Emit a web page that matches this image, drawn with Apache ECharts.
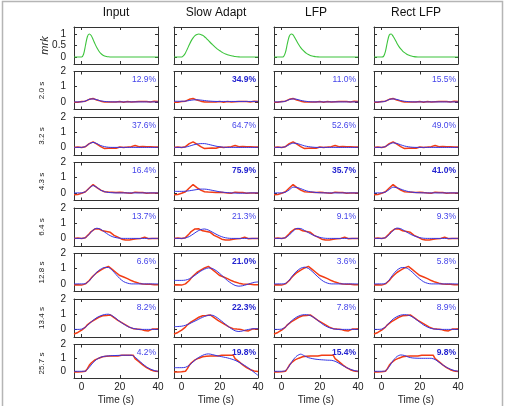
<!DOCTYPE html>
<html>
<head>
<meta charset="utf-8">
<script src="https://cdn.jsdelivr.net/npm/echarts@6/dist/echarts.min.js"></script>
<style>
  html, body { margin: 0; padding: 0; background: #fff; }
  #chart { width: 508px; height: 406px; }
</style>
</head>
<body>
<div id="chart"></div>
<script>
const columnTitles = ['Input', 'Slow Adapt', 'LFP', 'Rect LFP'];
const rowLabels = ['mrk', '2.0 s', '3.2 s', '4.3 s', '6.4 s', '12.8 s', '13.4 s', '25.7 s'];

// time grids (s)
const timeFine = [-4, -3, -2, -1, 0, 1, 2, 3, 4, 5, 6, 7, 8, 9, 10, 11, 12, 13, 14, 15, 16, 17, 18, 19, 20,
  21, 22, 23, 24, 25, 26, 27, 28, 29, 30, 31, 32, 33, 34, 35, 36, 37, 38, 39, 40];
const timeCoarse = [-4, -2, 0, 2, 4, 6, 8, 10, 12, 14, 16, 18, 20, 22, 24, 26, 28, 30, 32, 34, 36, 38, 40];

// top row: normalised kernels (green), on timeFine
const kernelInput = [0, 0, 0, 0, 0, 0.12, 0.5, 0.88, 1.0, 0.93, 0.76, 0.57, 0.4, 0.26, 0.16, 0.09, 0.05, 0.025, 0.012, 0.005,
  0, 0, 0, 0, 0, 0, 0, 0, 0, 0, 0, 0, 0, 0, 0, 0, 0, 0, 0, 0, 0, 0, 0, 0, 0];
const kernelSlowAdapt = [0, 0, 0, 0, 0, 0.06, 0.18, 0.35, 0.53, 0.7, 0.83, 0.93, 0.98, 1.0, 0.98, 0.94, 0.88, 0.8, 0.72, 0.63,
  0.55, 0.47, 0.4, 0.33, 0.27, 0.22, 0.17, 0.13, 0.1, 0.075, 0.055, 0.04, 0.025, 0.015, 0.008, 0.004, 0, 0, 0, 0, 0, 0, 0, 0, 0];
const kernelLfp = [0, 0, 0, 0, 0, 0.02, 0.2, 0.58, 0.9, 1.0, 0.96, 0.82, 0.67, 0.53, 0.41, 0.31, 0.23, 0.16, 0.11, 0.07,
  0.045, 0.028, 0.016, 0.008, 0.003, 0, 0, 0, 0, 0, 0, 0, 0, 0, 0, 0, 0, 0, 0, 0, 0, 0, 0, 0, 0];
const kernelRectLfp = [0, 0, 0, 0, 0, 0.03, 0.25, 0.65, 0.95, 1.0, 0.9, 0.76, 0.6, 0.46, 0.35, 0.26, 0.19, 0.13, 0.09, 0.06,
  0.035, 0.02, 0.01, 0.004, 0, 0, 0, 0, 0, 0, 0, 0, 0, 0, 0, 0, 0, 0, 0, 0, 0, 0, 0, 0, 0];

// measured response per row (red), on timeFine
const resp2s0 = [-0.02, 0.0, -0.03, 0.0, 0.02, 0.0, 0.05, 0.1, 0.17, 0.2, 0.22, 0.18, 0.12, 0.08, 0.05,
  0.02, 0.0, 0.02, 0.0, -0.02, 0.0, 0.02, 0.0, 0.01, 0.03, 0.0, -0.02, 0.0, 0.02, 0.0,
  0.0, 0.03, 0.01, 0.0, 0.02, 0.04, 0.02, 0.0, 0.03, 0.02, 0.0, 0.03, 0.05, 0.02, 0.03];
const resp3s2 = [0.0, -0.05, 0.03, -0.04, 0.0, 0.02, 0.05, 0.12, 0.25, 0.33, 0.36, 0.3, 0.22, 0.12, 0.05,
  -0.02, -0.08, -0.1, -0.05, -0.1, -0.04, 0.0, -0.06, -0.02, 0.03, -0.03, 0.0, -0.05, 0.02, 0.0,
  0.05, 0.14, 0.12, 0.15, 0.05, 0.0, 0.06, -0.02, 0.04, 0.0, 0.05, -0.03, 0.02, 0.0, 0.02];
const resp4s3 = [-0.12, -0.05, -0.1, -0.03, -0.02, 0.03, 0.08, 0.18, 0.32, 0.45, 0.55, 0.45, 0.35, 0.25, 0.18,
  0.12, 0.08, 0.05, 0.06, 0.02, 0.05, 0.0, 0.03, 0.02, 0.05, 0.0, 0.02, 0.04, 0.0, 0.03,
  -0.02, 0.02, 0.05, 0.0, 0.02, -0.02, 0.03, 0.0, -0.02, 0.02, 0.0, -0.02, 0.0, -0.03, 0.0];
const resp6s4 = [0.0, -0.03, 0.02, -0.02, 0.0, 0.02, 0.05, 0.15, 0.3, 0.45, 0.55, 0.62, 0.66, 0.63, 0.55,
  0.5, 0.42, 0.45, 0.38, 0.4, 0.28, 0.2, 0.15, 0.08, 0.02, -0.05, -0.08, -0.1, -0.06, -0.1,
  -0.02, -0.05, 0.0, -0.03, 0.02, 0.0, 0.1, 0.08, 0.0, -0.02, 0.02, 0.0, -0.02, 0.0, 0.0];
const resp12s8 = [-0.08, -0.1, -0.06, -0.1, -0.08, -0.05, 0.0, 0.1, 0.22, 0.38, 0.52, 0.65, 0.75, 0.85, 0.9,
  0.98, 1.05, 1.1, 1.15, 1.08, 0.95, 0.85, 0.75, 0.65, 0.55, 0.5, 0.45, 0.4, 0.35, 0.28,
  0.22, 0.15, 0.12, 0.08, 0.05, 0.03, 0.0, 0.02, -0.02, -0.05, -0.03, -0.08, -0.05, -0.1, -0.06];
const resp13s4 = [-0.3, -0.25, -0.2, -0.1, -0.05, 0.05, 0.15, 0.3, 0.4, 0.5, 0.58, 0.65, 0.72, 0.8, 0.85,
  0.9, 0.95, 0.92, 1.02, 0.95, 0.88, 0.78, 0.7, 0.6, 0.52, 0.45, 0.38, 0.3, 0.22, 0.15,
  0.12, 0.05, 0.08, 0.02, 0.05, 0.0, -0.02, -0.08, -0.03, -0.1, 0.0, 0.02, 0.05, 0.03, 0.05];
const resp25s7 = [-0.05, -0.03, -0.05, -0.05, -0.03, -0.05, 0.0, 0.2, 0.45, 0.62, 0.75, 0.85, 0.92, 0.98, 1.02,
  1.08, 1.1, 1.12, 1.12, 1.15, 1.12, 1.15, 1.18, 1.15, 1.18, 1.2, 1.17, 1.2, 1.22, 1.2,
  1.22, 1.2, 0.95, 0.85, 0.72, 0.6, 0.48, 0.38, 0.28, 0.2, 0.12, 0.08, 0.02, 0.0, -0.02];
const responses = [resp2s0, resp3s2, resp4s3, resp6s4, resp12s8, resp13s4, resp25s7];

// model fits (blue), on timeCoarse, one list of rows per column
const fitInput = [
  [0, 0, 0, 0.06, 0.17, 0.2, 0.14, 0.07, 0.03, 0.01, 0, 0, 0, 0, 0, 0, 0, 0, 0, 0, 0, 0, 0],
  [0, 0, 0, 0.06, 0.24, 0.33, 0.25, 0.12, 0.05, 0.01, 0, 0, 0, 0, 0, 0, 0, 0, 0, 0, 0, 0, 0],
  [0, 0, 0, 0.08, 0.32, 0.48, 0.36, 0.18, 0.08, 0.03, 0.01, 0, 0, 0, 0, 0, 0, 0, 0, 0, 0, 0, 0],
  [0, 0, 0, 0.05, 0.28, 0.55, 0.67, 0.6, 0.42, 0.25, 0.12, 0.05, 0.01, 0, 0, 0, 0, 0, 0, 0, 0, 0, 0],
  [0, 0, 0, 0.02, 0.2, 0.5, 0.78, 0.97, 1.08, 1.08, 0.9, 0.62, 0.35, 0.15, 0.05, 0, 0, 0, 0, 0, 0, 0, 0],
  [0, 0, 0.02, 0.15, 0.38, 0.6, 0.78, 0.9, 0.98, 1.0, 0.9, 0.72, 0.52, 0.35, 0.2, 0.1, 0.04, 0, 0, 0, 0, 0, 0],
  [0, 0, 0, 0.02, 0.3, 0.65, 0.9, 1.05, 1.12, 1.15, 1.17, 1.18, 1.19, 1.2, 1.2, 1.2, 1.05, 0.8, 0.55, 0.33, 0.17, 0.06, 0]
];
const fitSlowAdapt = [
  [0.04, 0.04, 0.04, 0.05, 0.09, 0.13, 0.14, 0.12, 0.09, 0.06, 0.04, 0.03, 0.03, 0.03, 0.03, 0.03, 0.03, 0.03, 0.03, 0.03, 0.03, 0.03, 0.03],
  [0, 0, 0, 0.02, 0.08, 0.16, 0.22, 0.25, 0.25, 0.2, 0.14, 0.08, 0.04, 0.01, 0, 0, 0, 0, 0, 0, 0, 0, 0],
  [0.1, 0.1, 0.1, 0.11, 0.14, 0.18, 0.22, 0.25, 0.25, 0.22, 0.17, 0.12, 0.07, 0.04, 0.02, 0, -0.01, -0.02, -0.02, -0.01, 0, 0, 0],
  [0, 0, 0, 0.03, 0.12, 0.28, 0.45, 0.58, 0.62, 0.55, 0.42, 0.28, 0.16, 0.07, 0.02, 0, 0, 0, 0, 0, 0, 0, 0],
  [0.23, 0.23, 0.23, 0.25, 0.33, 0.48, 0.66, 0.84, 0.97, 1.05, 1.02, 0.88, 0.68, 0.45, 0.22, 0.04, -0.1, -0.15, -0.12, -0.05, 0.03, 0.1, 0.13],
  [0.18, 0.19, 0.21, 0.27, 0.37, 0.49, 0.61, 0.74, 0.85, 0.93, 0.93, 0.82, 0.64, 0.44, 0.23, 0.05, -0.09, -0.14, -0.1, -0.03, 0.02, 0.05, 0.05],
  [0.27, 0.27, 0.27, 0.3, 0.45, 0.7, 0.95, 1.12, 1.25, 1.3, 1.25, 1.18, 1.12, 1.06, 1.0, 0.92, 0.82, 0.68, 0.52, 0.35, 0.15, -0.08, -0.3]
];
const fitLfp = [
  [0, 0, 0, 0.05, 0.15, 0.2, 0.17, 0.1, 0.05, 0.02, 0, 0, 0, 0, 0, 0, 0, 0, 0, 0, 0, 0, 0],
  [0, 0, 0, 0.05, 0.18, 0.28, 0.26, 0.18, 0.1, 0.05, 0.02, 0, 0, 0, 0, 0, 0, 0, 0, 0, 0, 0, 0],
  [0, 0, 0, 0.05, 0.2, 0.38, 0.36, 0.28, 0.18, 0.1, 0.06, 0.03, 0.01, 0, 0, 0, 0, 0, 0, 0, 0, 0, 0],
  [0, 0, 0, 0.05, 0.22, 0.48, 0.66, 0.65, 0.52, 0.38, 0.25, 0.14, 0.07, 0.02, 0, 0, 0, 0, 0, 0, 0, 0, 0],
  [0, 0, 0, 0.03, 0.25, 0.58, 0.85, 1.03, 1.1, 1.02, 0.82, 0.58, 0.35, 0.16, 0.05, 0, 0, 0, 0, 0, 0, 0, 0],
  [0, 0, 0.02, 0.15, 0.42, 0.65, 0.82, 0.93, 0.97, 0.95, 0.85, 0.68, 0.48, 0.3, 0.16, 0.07, 0.02, 0, 0, 0, 0, 0, 0],
  [0, 0, 0, 0.05, 0.4, 0.85, 1.15, 1.28, 1.15, 1.02, 0.95, 0.9, 0.87, 0.85, 0.83, 0.82, 0.75, 0.6, 0.43, 0.28, 0.15, 0.06, 0.01]
];
const fitRectLfp = [
  [0, 0, 0, 0.05, 0.16, 0.2, 0.16, 0.09, 0.04, 0.02, 0, 0, 0, 0, 0, 0, 0, 0, 0, 0, 0, 0, 0],
  [0, 0, 0, 0.06, 0.2, 0.3, 0.26, 0.17, 0.09, 0.04, 0.01, 0, 0, 0, 0, 0, 0, 0, 0, 0, 0, 0, 0],
  [0, 0, 0, 0.06, 0.22, 0.38, 0.34, 0.25, 0.16, 0.09, 0.05, 0.02, 0.01, 0, 0, 0, 0, 0, 0, 0, 0, 0, 0],
  [0, 0, 0, 0.05, 0.25, 0.52, 0.68, 0.64, 0.5, 0.35, 0.22, 0.12, 0.05, 0.01, 0, 0, 0, 0, 0, 0, 0, 0, 0],
  [0, 0, 0, 0.03, 0.27, 0.62, 0.9, 1.06, 1.08, 0.98, 0.78, 0.54, 0.32, 0.14, 0.04, 0, 0, 0, 0, 0, 0, 0, 0],
  [0, 0, 0.02, 0.16, 0.44, 0.68, 0.84, 0.94, 0.97, 0.94, 0.83, 0.66, 0.47, 0.29, 0.15, 0.06, 0.02, 0, 0, 0, 0, 0, 0],
  [0, 0, 0, 0.03, 0.35, 0.8, 1.1, 1.22, 1.18, 1.06, 1.0, 0.98, 0.97, 0.97, 0.97, 0.97, 0.88, 0.68, 0.48, 0.3, 0.16, 0.06, 0.01]
];

// percentages printed in each panel, and which ones are bold
const pctInput = ['12.9%', '37.6%', '16.4%', '13.7%', '6.6%', '8.2%', '4.2%'];
const pctSlowAdapt = ['34.9%', '64.7%', '75.9%', '21.3%', '21.0%', '22.3%', '19.8%'];
const pctLfp = ['11.0%', '52.6%', '35.7%', '9.1%', '3.6%', '7.8%', '15.4%'];
const pctRectLfp = ['15.5%', '49.0%', '41.0%', '9.3%', '5.8%', '8.9%', '9.8%'];
const boldInput = [false, false, false, false, false, false, false];
const boldSlowAdapt = [true, false, true, false, true, true, true];
const boldLfp = [false, false, true, false, false, false, true];
const boldRectLfp = [false, false, true, false, false, false, true];

const kernels = [kernelInput, kernelSlowAdapt, kernelLfp, kernelRectLfp];
const fits = [fitInput, fitSlowAdapt, fitLfp, fitRectLfp];
const pcts = [pctInput, pctSlowAdapt, pctLfp, pctRectLfp];
const bolds = [boldInput, boldSlowAdapt, boldLfp, boldRectLfp];

// layout
const colLeft = [74, 174, 274, 374];
const colWidth = 84;
const rowTop = [27, 71.5, 117, 162.5, 208, 253.5, 299, 344.5];
const FONT = '"Liberation Sans", Arial, Helvetica, sans-serif';
const AXIS_COLOR = '#333';

const pairs = (ts, vs) => ts.map((t, i) => [t, vs[i]]);

const grid = [];
const xAxis = [];
const yAxis = [];
const series = [];
const graphic = [];

graphic.push({
  type: 'rect', silent: true,
  shape: { x: 2.5, y: 1.5, width: 500, height: 420 },
  style: { fill: 'none', stroke: '#b5b5b5', lineWidth: 1.5 }
});

for (let r = 0; r < 8; r++) {
  const isTop = r === 0;
  const ymin = isTop ? -0.3 : -0.5;
  const ymax = isTop ? 1.3 : 2;
  const yticks = isTop ? [0, 0.5, 1] : [0, 1, 2];
  const h = isTop ? 37 : 38;

  for (let c = 0; c < 4; c++) {
    const g = grid.length;
    grid.push({ left: colLeft[c], top: rowTop[r], width: colWidth, height: h, containLabel: false });

    const line = { show: true, onZero: false, lineStyle: { color: AXIS_COLOR, width: 1 } };
    const lastRow = r === 7;
    xAxis.push({
      type: 'value', gridIndex: g, position: 'bottom', min: -4, max: 40,
      axisLine: line,
      axisTick: { inside: true, length: 3, customValues: [0, 20, 40], lineStyle: { color: AXIS_COLOR } },
      axisLabel: { show: lastRow, customValues: [0, 20, 40], fontSize: 10, color: '#222', fontFamily: FONT, margin: 4 },
      splitLine: { show: false },
      name: lastRow ? 'Time (s)' : '', nameLocation: 'middle', nameGap: 17,
      nameTextStyle: { fontSize: 10, color: '#222', fontFamily: FONT }
    });
    xAxis.push({
      type: 'value', gridIndex: g, position: 'top', min: -4, max: 40,
      axisLine: line,
      axisTick: { inside: true, length: 3, customValues: [0, 20, 40], lineStyle: { color: AXIS_COLOR } },
      axisLabel: { show: false },
      splitLine: { show: false }
    });
    yAxis.push({
      type: 'value', gridIndex: g, position: 'left', min: ymin, max: ymax,
      axisLine: line,
      axisTick: { inside: true, length: 3, customValues: yticks, lineStyle: { color: AXIS_COLOR } },
      axisLabel: { show: c === 0, customValues: yticks, fontSize: 10, color: '#222', fontFamily: FONT, margin: 8 },
      splitLine: { show: false }
    });
    yAxis.push({
      type: 'value', gridIndex: g, position: 'right', min: ymin, max: ymax,
      axisLine: line,
      axisTick: { inside: true, length: 3, customValues: yticks, lineStyle: { color: AXIS_COLOR } },
      axisLabel: { show: false },
      splitLine: { show: false }
    });

    const xi = 2 * g;
    const yi = 2 * g;
    if (isTop) {
      series.push({
        type: 'line', xAxisIndex: xi, yAxisIndex: yi, data: pairs(timeFine, kernels[c]),
        symbol: 'none', smooth: 0.3, lineStyle: { color: '#3cc43c', width: 1.1 }, silent: true
      });
    } else {
      series.push({
        type: 'line', xAxisIndex: xi, yAxisIndex: yi, data: pairs(timeFine, responses[r - 1]),
        symbol: 'none', lineStyle: { color: '#f23c14', width: 1.5 }, silent: true
      });
      series.push({
        type: 'line', xAxisIndex: xi, yAxisIndex: yi, data: pairs(timeCoarse, fits[c][r - 1]),
        symbol: 'none', smooth: 0.25, lineStyle: { color: '#3434e4', width: 1 }, silent: true
      });
      const bold = bolds[c][r - 1];
      graphic.push({
        type: 'text', silent: true,
        x: colLeft[c] + colWidth - 2, y: rowTop[r] + 8.5,
        style: {
          text: pcts[c][r - 1], fontSize: 8.5, fontFamily: FONT,
          fontWeight: bold ? 'bold' : 'normal', fill: bold ? '#2323d0' : '#4545ea',
          align: 'right', verticalAlign: 'middle'
        }
      });
    }
  }

  // row label, rotated
  graphic.push({
    type: 'text', silent: true,
    x: isTop ? 45 : 42, y: rowTop[r] + h / 2, rotation: Math.PI / 2,
    style: {
      text: rowLabels[r], fontSize: isTop ? 11 : 8, fontFamily: FONT,
      fontStyle: isTop ? 'italic' : 'normal', fill: '#222',
      align: 'center', verticalAlign: 'middle'
    }
  });
}

for (let c = 0; c < 4; c++) {
  graphic.push({
    type: 'text', silent: true,
    x: colLeft[c] + colWidth / 2, y: 12.5,
    style: {
      text: columnTitles[c], fontSize: 12, fontFamily: FONT, fill: '#111',
      align: 'center', verticalAlign: 'middle'
    }
  });
}

const chart = echarts.init(document.getElementById('chart'));
chart.setOption({
  backgroundColor: '#fff',
  animation: false,
  grid,
  xAxis,
  yAxis,
  series,
  graphic
});
</script>
</body>
</html>
